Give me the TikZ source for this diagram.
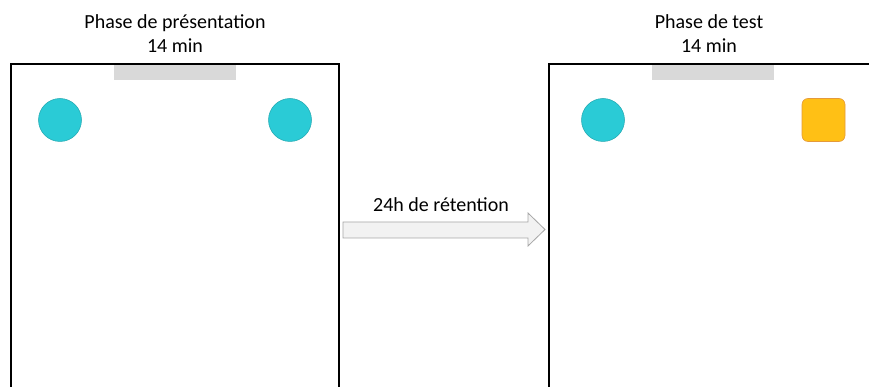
\documentclass[tikz,border=0pt]{standalone}
\usepackage{fontspec}
\setmainfont{Carlito}
\definecolor{teal}{HTML}{2ACBD6}
\definecolor{tealdark}{HTML}{1FA6AF}
\definecolor{orangefill}{HTML}{FFC015}
\definecolor{orangeline}{HTML}{E59A3A}
\definecolor{bargray}{HTML}{D9D9D9}
\definecolor{arrowfill}{HTML}{F2F2F2}
\definecolor{arrowline}{HTML}{A6A6A6}
\tikzset{
  arena/.style={line width=2pt, black},
  bar/.style={fill=bargray, draw=none},
  obj/.style={circle, fill=teal, draw=tealdark, line width=0.5pt, minimum size=43pt, inner sep=0pt},
  newobj/.style={rectangle, rounded corners=6pt, fill=orangefill, draw=orangeline, line width=0.6pt, minimum size=43pt, inner sep=0pt},
  txt/.style={font=\fontsize{20pt}{24pt}\selectfont, inner sep=0pt, anchor=base},
  bigarrow/.style={draw=arrowline, fill=arrowfill, line width=0.8pt, line join=miter},
}
\begin{document}
\begin{tikzpicture}[x=1pt, y=-1pt]
\useasboundingbox (0,0) rectangle (869,387);
% arenas
\coordinate (la) at (11,387); \coordinate (lb) at (11,64); \coordinate (lc) at (339,64); \coordinate (ld) at (339,387);
\draw[arena] (la) -- (lb) -- (lc) -- (ld);
\coordinate (ra) at (549,387); \coordinate (rb) at (549,64); \coordinate (rc) at (880,64);
\draw[arena] (ra) -- (rb) -- (rc);
% bars
\fill[bar] (114,65) rectangle (236,80);
\fill[bar] (652,65) rectangle (774,80);
% objects
\node[obj] (o1) at (60,120) {};
\node[obj] (o2) at (290,120) {};
\node[obj] (o3) at (603,120) {};
\node[newobj] (o4) at (823.5,120) {};
% titles
\node[txt] (t1a) at (175,29) {Phase de présentation};
\node[txt] (t1b) at (175,53) {14 min};
\node[txt] (t2a) at (709,29) {Phase de test};
\node[txt] (t2b) at (709,53) {14 min};
% arrow
\draw[bigarrow] (343,222) -- (528,222) -- (528,213) -- (545,229.5) -- (528,246) -- (528,238) -- (343,238) -- cycle;
\node[txt] (lbl) at (441,212) {24h de rétention};
\end{tikzpicture}
\end{document}
